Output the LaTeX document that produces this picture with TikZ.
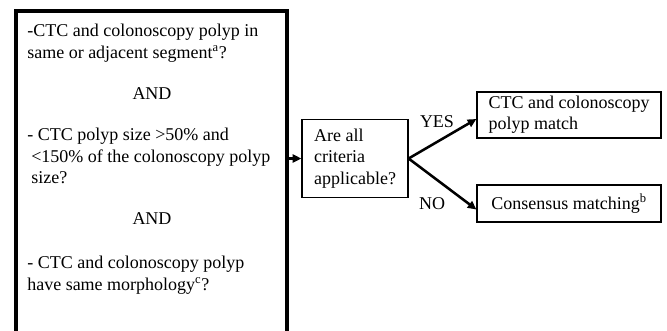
\documentclass[tikz,border=0pt]{standalone}
\usepackage{fontspec}
\setmainfont{Liberation Serif}
\usetikzlibrary{arrows.meta,calc}
\begin{document}
\begin{tikzpicture}[x=0.75pt,y=-0.75pt,
  txt/.style={font=\fontsize{13.5}{16.3}\selectfont, inner sep=0pt},
  box/.style={draw, line width=0.9pt, font=\fontsize{13.5}{15.5}\selectfont, align=left, inner sep=0pt},
  bigbox/.style={draw, line width=3pt, inner sep=0pt},
  arr/.style={line width=1.9pt, -{Triangle[length=6.5pt,width=6pt]}},
]
\useasboundingbox (0,0) rectangle (667,330);
\fill[white] (0,0) rectangle (667,330);
\clip (0,0) rectangle (667,330);

% criteria box (open at the bottom of the picture)
\node[bigbox, minimum width=203.25pt, minimum height=254.25pt] (crit) at (151.5,180.5) {};

\node[txt, anchor=base west] (l1) at (27,36) {-CTC and colonoscopy polyp in};
\node[txt, anchor=base west] (l2) at (27,58) {same or adjacent segment\textsuperscript{a}?};
\node[txt, anchor=base] (and1) at (152,99) {AND};
\node[txt, anchor=base west] (l3) at (27,140) {- CTC polyp size >50\% and};
\node[txt, anchor=base west] (l4) at (31,162) {<150\% of the colonoscopy polyp};
\node[txt, anchor=base west] (l5) at (31,183) {size?};
\node[txt, anchor=base] (and2) at (152,224) {AND};
\node[txt, anchor=base west] (l6) at (27,268) {- CTC and colonoscopy polyp};
\node[txt, anchor=base west] (l7) at (27,290) {have same morphology\textsuperscript{c}?};

% decision box
\node[box, font=\fontsize{13.5}{16.3}\selectfont, minimum width=79.5pt, minimum height=58.5pt] (q) at (355,158.5) {Are all\\criteria\\applicable?};

% outcome boxes
\node[box, minimum width=138pt, minimum height=34.5pt] (yes) at (569,115) {CTC and colonoscopy\\polyp match};
\node[box, minimum width=138pt, minimum height=27.75pt] (no) at (569,203.5) {Consensus matching\textsuperscript{b}};

% connectors
\draw[arr] (crit.east |- q.west) -- (q.west);
\draw[arr] (q.east) -- ($(yes.west)+(0,4)$);
\draw[arr] (q.east) -- ($(no.west)+(0,6)$);

\node[txt] (ylab) at (437,122) {YES};
\node[txt] (nlab) at (432,204) {NO};
\end{tikzpicture}
\end{document}
